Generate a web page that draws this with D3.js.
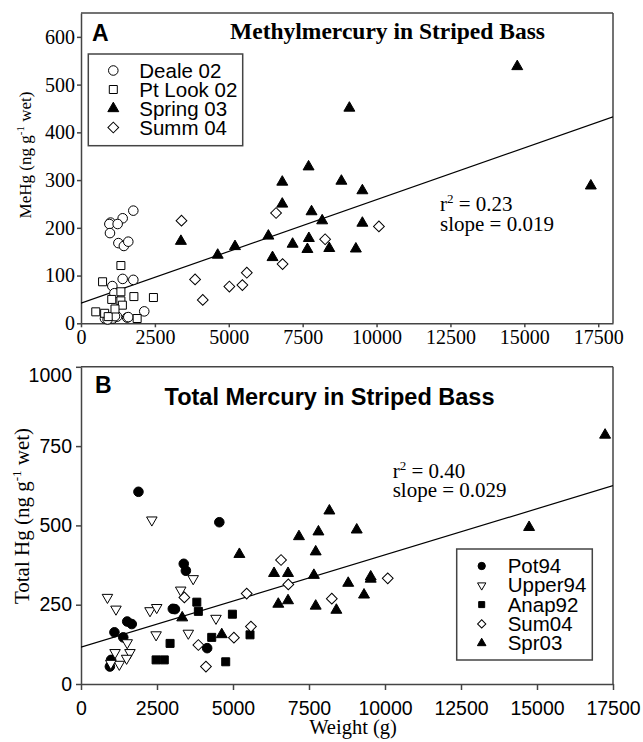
<!DOCTYPE html>
<html><head><meta charset="utf-8">
<script src="https://cdn.jsdelivr.net/npm/d3@7"></script>
<style>body{margin:0;background:#fff}</style>
</head><body>
<svg id="c" width="643" height="742"></svg>
<script>
// ---------------- DATA: Panel A (MeHg) [weight g, MeHg ng/g] ----------------
const deale02 = [[1770,236],[1410,220],[1000,211],[960,208],[1240,208],[980,189],[1265,168],[1450,162],[1600,171],
  [1410,93],[1770,91],[1060,78],[1130,63],[2140,25],[810,10],[980,12],[1080,10],[1220,14],[1560,12],[1600,13],[900,8],[1150,15]];
const ptLook02 = [[1350,121],[730,87],[1040,50],[1350,47],[1790,56],[2450,54],[500,24],[800,21],[920,14],[1400,38],[1900,10],[1350,66],[1150,30]];
const spring03 = [[3380,172],[4625,143],[5210,161],[6340,183],[6480,138],[6810,296],[6810,250],[7700,328],[7800,234],[7160,166],
  [7710,178],[7660,155],[8160,215],[8400,157],[8810,298],[9080,451],[9520,278],[9520,210],[9300,156],[14760,538],[17250,288]];
const summ04 = [[3400,215],[3860,92],[4120,49],[5020,77],[5460,80],[5610,106],[6600,231],[6820,124],[8260,176],[10080,203]];
const regA = {intercept: 42, slope: 0.0217};
const statsA = ["0.23", "0.019"];
const xTicksA = [0,2500,5000,7500,10000,12500,15000,17500];
const yTicksA = [0,100,200,300,400,500,600];

// ---------------- DATA: Panel B (Total Hg) ----------------
const pot94 = [[1890,606],[1100,163],[1390,147],[1520,197],[1670,189],[990,76],[950,55],[3020,237],[3090,236],[3380,379],[3450,357],[4550,510],[4150,113]];
const upper94 = [[2330,517],[870,273],[1150,236],[2270,231],[2490,241],[2470,155],[3280,296],[3690,332],[3530,160],[4440,207],
  [1520,130],[1610,99],[1120,99],[1500,81],[1260,62],[980,65]];
const anap92 = [[3810,258],[3860,229],[4980,220],[4300,147],[5560,155],[4760,70],[2930,128],[2470,76],[2740,76]];
const sum04 = [[6580,391],[6820,314],[5450,285],[5590,181],[5030,146],[3860,123],[4110,55],[8250,269],[3400,273],[10090,333]];
const spr03 = [[3330,209],[4630,156],[5210,409],[6350,349],[6810,349],[6490,252],[6810,263],[7170,465],[7810,480],[7720,417],
  [7660,343],[7720,246],[8170,546],[8400,233],[9070,486],[8790,318],[9310,281],[9530,338],[9530,331],[14740,494],[17240,785]];
const regB = {intercept: 116, slope: 0.0291};
const statsB = ["0.40", "0.029"];
const xTicksB = [0,2500,5000,7500,10000,12500,15000,17500];
const yTicksB = [0,250,500,750,1000];

const SERIF = "'Liberation Serif','Times New Roman',serif";
const SANS = "'Liberation Sans',Arial,sans-serif";
const svg = d3.select("#c");
const AX = "#444";

function marker(g, kind, size, x, y) {
  const defs = {
    circleOpen:   {t: d3.symbolCircle, fill: "#fff", rot: 0},
    circleFilled: {t: d3.symbolCircle, fill: "#000", rot: 0},
    squareOpen:   {t: d3.symbolSquare, fill: "#fff", rot: 0},
    squareFilled: {t: d3.symbolSquare, fill: "#000", rot: 0},
    triUp:        {t: d3.symbolTriangle, fill: "#000", rot: 0},
    triDownOpen:  {t: d3.symbolTriangle, fill: "#fff", rot: 180},
    diamondOpen:  {t: d3.symbolSquare, fill: "#fff", rot: 45}
  };
  const d = defs[kind];
  g.append("path")
    .attr("d", d3.symbol().type(d.t).size(size)())
    .attr("transform", `translate(${x},${y}) rotate(${d.rot})`)
    .attr("fill", d.fill).attr("stroke", "#000").attr("stroke-width", 1);
}

function panel(o) {
  const g = svg.append("g");
  const x = d3.scaleLinear().domain(o.xDom).range([81, 613]);
  const y = d3.scaleLinear().domain(o.yDom).range(o.yRange);
  // frame
  g.append("line").attr("x1", 81).attr("x2", 613).attr("y1", y.range()[1]).attr("y2", y.range()[1]).attr("stroke", AX).attr("stroke-width", 1.5);
  g.append("line").attr("x1", 613).attr("x2", 613).attr("y1", y.range()[1]).attr("y2", y.range()[0]).attr("stroke", AX).attr("stroke-width", 1.5);
  const xa = g.append("g").attr("transform", `translate(0,${y.range()[0]})`)
    .call(d3.axisBottom(x).tickValues(o.xTicks).tickFormat(d3.format("d")).tickSize(o.xTickSize).tickSizeOuter(0).tickPadding(o.xPad));
  const ya = g.append("g").attr("transform", `translate(81,0)`)
    .call(d3.axisLeft(y).tickValues(o.yTicks).tickFormat(d3.format("d")).tickSize(o.yTickSize).tickSizeOuter(0).tickPadding(o.yPad));
  [xa, ya].forEach(a => {
    a.select(".domain").attr("stroke", AX).attr("stroke-width", 1.5);
    a.selectAll(".tick line").attr("stroke", AX).attr("stroke-width", 1.5);
    a.selectAll("text").attr("fill", "#000").style("font-family", o.tickFont).style("font-size", o.tickSize + "px");
  });
  if (o.topLabelShift) ya.selectAll(".tick").filter(d => d === o.yTicks[o.yTicks.length-1]).select("text").attr("y", o.topLabelShift);
  // regression line
  const clipId = "clip" + o.id;
  g.append("clipPath").attr("id", clipId).append("rect")
    .attr("x", 81).attr("y", y.range()[1]).attr("width", 532).attr("height", y.range()[0] - y.range()[1]);
  g.append("line").attr("clip-path", `url(#${clipId})`)
    .attr("x1", x(0)).attr("y1", y(o.reg.intercept))
    .attr("x2", x(o.xDom[1])).attr("y2", y(o.reg.intercept + o.reg.slope * o.xDom[1]))
    .attr("stroke", "#000").attr("stroke-width", 1.2);
  // points
  o.series.forEach(s => s.data.forEach(p => marker(g, s.kind, s.size, x(p[0]), y(p[1]))));
  return {g, x, y};
}

// ---------------- Panel A ----------------
const A = panel({
  id: "A", xDom: [0, 18000], yDom: [0, 650], yRange: [323.3, 13],
  xTicks: xTicksA, yTicks: yTicksA, xTickSize: 4, yTickSize: 4, xPad: 3, yPad: 2,
  tickFont: SERIF, tickSize: 20, reg: regA,
  series: [
    {name: "Deale 02", kind: "circleOpen", size: 72, data: deale02},
    {name: "Pt Look 02", kind: "squareOpen", size: 64, data: ptLook02},
    {name: "Spring 03", kind: "triUp", size: 52, data: spring03},
    {name: "Summ 04", kind: "diamondOpen", size: 58, data: summ04}
  ]
});
svg.append("text").attr("x", 92).attr("y", 40.5).text("A")
  .style("font-family", SANS).style("font-weight", "bold").style("font-size", "23px");
svg.append("text").attr("x", 387.5).attr("y", 39).attr("text-anchor", "middle").text("Methylmercury in Striped Bass")
  .style("font-family", SERIF).style("font-weight", "bold").style("font-size", "23.5px");
// legend A
const legA = svg.append("g");
legA.append("rect").attr("x", 88.3).attr("y", 54).attr("width", 154.4).attr("height", 91.7).attr("fill", "#fff").attr("stroke", AX).attr("stroke-width", 1.5);
[["Deale 02","circleOpen",72],["Pt Look 02","squareOpen",64],["Spring 03","triUp",52],["Summ 04","diamondOpen",58]].forEach((e, i) => {
  const cy = 70.5 + i * 19;
  marker(legA, e[1], e[2], 113.3, cy);
  legA.append("text").attr("x", 139.3).attr("y", cy).attr("dy", "0.35em").text(e[0])
    .style("font-family", SANS).style("font-size", "20.5px");
});
// stats A
const stA = svg.append("g").style("font-family", SERIF).style("font-size", "21px");
const tA1 = stA.append("text").attr("x", 440).attr("y", 210.5);
tA1.append("tspan").text("r");
tA1.append("tspan").attr("dy", -8).style("font-size", "13px").text("2");
tA1.append("tspan").attr("dy", 8).text(" = " + statsA[0]);
stA.append("text").attr("x", 440).attr("y", 230.5).text("slope = " + statsA[1]);
// y label A
const ylA = svg.append("text").attr("transform", "translate(31,155) rotate(-90)").attr("text-anchor", "middle")
  .style("font-family", SERIF).style("font-size", "17px");
ylA.append("tspan").text("MeHg (ng g");
ylA.append("tspan").attr("dy", -7).style("font-size", "11px").text("-1");
ylA.append("tspan").attr("dy", 7).text(" wet)");

// ---------------- Panel B ----------------
const B = panel({
  id: "B", xDom: [0, 17500], yDom: [0, 1000], yRange: [684, 366.8],
  xTicks: xTicksB, yTicks: yTicksB, xTickSize: 6, yTickSize: 5, xPad: 11, yPad: 4,
  tickFont: SANS, tickSize: 19.5, reg: regB, topLabelShift: 8,
  series: [
    {name: "Pot94", kind: "circleFilled", size: 72, data: pot94},
    {name: "Upper94", kind: "triDownOpen", size: 48, data: upper94},
    {name: "Anap92", kind: "squareFilled", size: 64, data: anap92},
    {name: "Sum04", kind: "diamondOpen", size: 58, data: sum04},
    {name: "Spr03", kind: "triUp", size: 52, data: spr03}
  ]
});
svg.append("text").attr("x", 95).attr("y", 393).text("B")
  .style("font-family", SANS).style("font-weight", "bold").style("font-size", "23px");
svg.append("text").attr("x", 329.5).attr("y", 405).attr("text-anchor", "middle").text("Total Mercury in Striped Bass")
  .style("font-family", SANS).style("font-weight", "bold").style("font-size", "23.5px");
// legend B
const legB = svg.append("g");
legB.append("rect").attr("x", 456.7).attr("y", 549).attr("width", 135.6).attr("height", 111).attr("fill", "#fff").attr("stroke", AX).attr("stroke-width", 1.5);
[["Pot94","circleFilled",42],["Upper94","triDownOpen",30],["Anap92","squareFilled",36],["Sum04","diamondOpen",34],["Spr03","triUp",32]].forEach((e, i) => {
  const cy = 566 + i * 19.3;
  marker(legB, e[1], e[2], 481.7, cy);
  legB.append("text").attr("x", 507.7).attr("y", cy).attr("dy", "0.35em").text(e[0])
    .style("font-family", SANS).style("font-size", "20.5px");
});
// stats B
const stB = svg.append("g").style("font-family", SERIF).style("font-size", "21px");
const tB1 = stB.append("text").attr("x", 392.7).attr("y", 477.5);
tB1.append("tspan").text("r");
tB1.append("tspan").attr("dy", -8).style("font-size", "13px").text("2");
tB1.append("tspan").attr("dy", 8).text(" = " + statsB[0]);
stB.append("text").attr("x", 392.7).attr("y", 497).text("slope = " + statsB[1]);
// y label B
const ylB = svg.append("text").attr("transform", "translate(29,516) rotate(-90)").attr("text-anchor", "middle")
  .style("font-family", SERIF).style("font-size", "21px");
ylB.append("tspan").text("Total Hg (ng g");
ylB.append("tspan").attr("dy", -8).style("font-size", "13px").text("-1");
ylB.append("tspan").attr("dy", 8).text(" wet)");
// x label
svg.append("text").attr("x", 353).attr("y", 734).attr("text-anchor", "middle").text("Weight (g)")
  .style("font-family", SERIF).style("font-size", "20.5px");
</script>
</body></html>
